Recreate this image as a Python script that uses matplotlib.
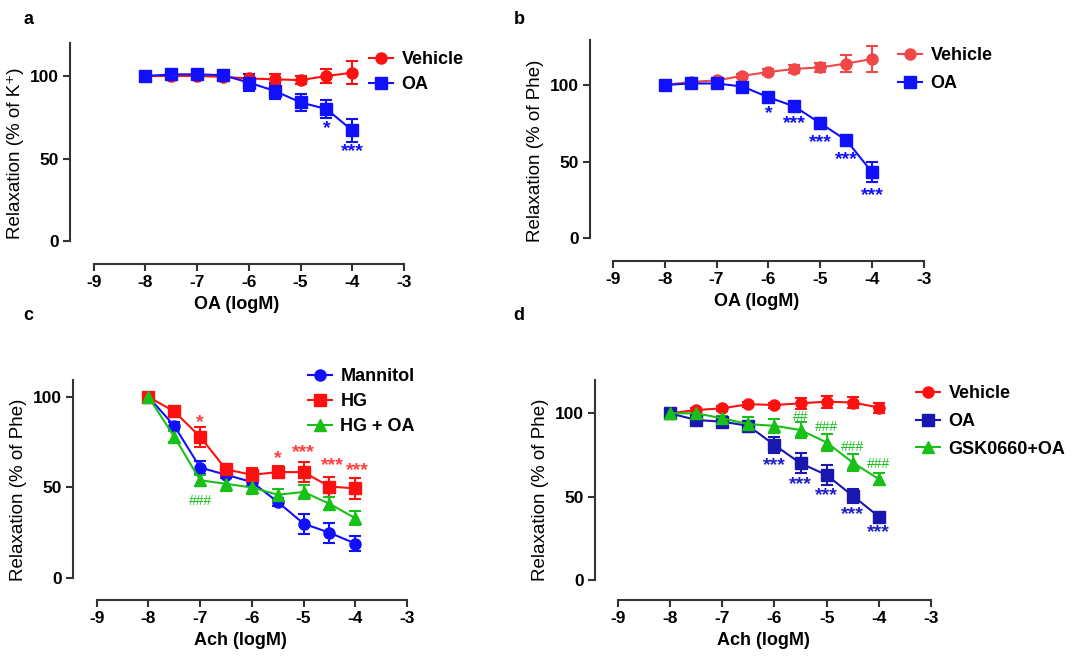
import matplotlib
matplotlib.use("Agg")
import matplotlib.pyplot as plt

plt.rcParams['font.family'] = ['Liberation Sans', 'DejaVu Sans']
plt.rcParams['font.weight'] = 'bold'

# ---------------- data ----------------
conc = [-8, -7.5, -7, -6.5, -6, -5.5, -5, -4.5, -4]
xticks = [-9, -8, -7, -6, -5, -4, -3]
yticks = [0, 50, 100]

# panel a
a_veh = [100, 100, 100, 99.5, 98.5, 98, 97.5, 100, 102]
a_veh_err = [0.5, 1, 2, 1.5, 3, 3, 2.5, 4.5, 7]
a_oa = [100, 101, 101, 100.5, 96, 91, 84, 80, 67]
a_oa_err = [0.5, 1, 2, 1.5, 5, 5, 5, 5.5, 7]

# panel b
b_veh = [100, 102, 103, 106, 108.5, 110.5, 111.5, 114, 117]
b_veh_err = [0.5, 1, 1, 1.5, 2, 2.5, 3, 5.8, 8.5]
b_oa = [100, 101, 101, 99, 92, 86, 75, 64, 43]
b_oa_err = [0.5, 1, 1, 1, 1.5, 1.5, 3.5, 3, 6.5]

# panel c
c_mann = [100, 84, 61, 57, 53, 42, 30, 25, 19]
c_mann_err = [0.5, 2, 3.5, 2, 2, 2, 5.5, 5.5, 4]
c_hg = [100, 92, 78, 60, 57, 58.5, 58.5, 50.5, 49.5]
c_hg_err = [0.5, 1.5, 5.5, 2, 3.5, 3.5, 5.5, 5.5, 6]
c_hgoa = [100, 78, 54, 52, 50, 46, 47.5, 41, 33]
c_hgoa_err = [0.5, 3, 3, 4, 3.5, 3, 4, 3.5, 4]

# panel d
d_veh = [100, 102, 103, 105.5, 105, 106, 107, 106.5, 103.5]
d_veh_err = [0.5, 1, 1.5, 1.5, 1.5, 3.5, 3.5, 3.5, 3]
d_oa = [100, 96, 95, 92.5, 81, 70, 63, 50.5, 38]
d_oa_err = [0.5, 1, 1.5, 2, 5, 6, 6, 4, 2]
d_gsk = [100, 100, 97, 93.5, 92.5, 90, 82.5, 70.5, 60.5]
d_gsk_err = [0.5, 1, 1.5, 4.5, 4, 5, 5, 5, 3.5]

# significance marks: (x, y, text)
a_marks = [(-4.5, 68, '*'), (-4, 54, '***')]
b_marks = [(-6, 81, '*'), (-5.5, 74.5, '***'), (-5, 62.4, '***'),
           (-4.5, 51, '***'), (-4, 27.7, '***')]
c_red_marks = [(-7, 86, '*'), (-5.5, 66, '*'), (-5, 69.3, '***'),
               (-4.45, 62, '***'), (-3.95, 59.3, '***')]
c_green_marks = [(-7, 42.7, '###')]
d_blue_marks = [(-6, 68.9, '***'), (-5.5, 57.2, '***'), (-5, 50.8, '***'),
                (-4.5, 39.2, '***'), (-4, 28.3, '***')]
d_green_marks = [(-5.5, 97.6, '##'), (-5, 92, '###'), (-4.5, 80, '###'),
                 (-4, 69.5, '###')]

W, H = 1078, 656
fig = plt.figure(figsize=(W / 100, H / 100), dpi=100)

RED = '#ff1010'
RED_L = '#f04848'
BLUE = '#1010ff'
NAVY = '#1818b0'
GREEN = '#18c018'
SPINE = '#333333'


def make_ax(left, right, top, bottom, ylim, xleft, xlabel, ylabel):
    ax = fig.add_axes([left / W, 1 - bottom / H, (right - left) / W, (bottom - top) / H])
    ax.set_xlim(xleft, -3)
    ax.set_ylim(*ylim)
    for s in ['top', 'right']:
        ax.spines[s].set_visible(False)
    for s in ['left', 'bottom']:
        ax.spines[s].set_linewidth(1.5)
        ax.spines[s].set_color(SPINE)
    ax.spines['left'].set_bounds(0, ylim[1])
    ax.spines['bottom'].set_bounds(-9, -3)
    ax.set_xticks(xticks)
    ax.set_yticks(yticks)
    ax.set_xticklabels([str(t) for t in xticks])
    ax.tick_params(direction='out', length=5, width=1.5, color=SPINE,
                   labelsize=12.5, pad=3)
    for lab in ax.get_xticklabels() + ax.get_yticklabels():
        lab.set_fontweight('bold')
    ax.set_xlabel(xlabel, fontsize=13, fontweight='bold', labelpad=4)
    ax.set_ylabel(ylabel, fontsize=13.5, fontweight='normal', labelpad=4)
    return ax


def series(ax, y, err, color, marker, label, ms=8):
    cont = ax.errorbar(conc, y, yerr=err, color=color, marker=marker, markersize=ms,
                       linewidth=1.5, elinewidth=1.5, capsize=4.5, capthick=1.5,
                       label=label, clip_on=False)
    return cont[0]


def marks(ax, lst, color, size=14, weight='bold'):
    for x, y, t in lst:
        ax.text(x, y, t, color=color, fontsize=size, fontweight=weight,
                ha='center', va='center')


def legend(ax, handles, labels, x, y, spacing):
    leg = ax.legend(handles, labels, loc='upper left',
                    bbox_to_anchor=(x / W, 1 - y / H),
                    bbox_transform=fig.transFigure, frameon=False,
                    prop={'size': 13, 'weight': 'bold'}, handlelength=1.35,
                    handletextpad=0.45, borderpad=0, borderaxespad=0,
                    labelspacing=spacing)
    return leg


# ---- panel a ----
axa = make_ax(70, 404, 43, 264, (-13.9, 120), -9.46, 'OA (logM)',
              'Relaxation (% of K\u207a)')
h1 = series(axa, a_veh, a_veh_err, RED, 'o', 'Vehicle')
h2 = series(axa, a_oa, a_oa_err, BLUE, 's', 'OA')
marks(axa, a_marks, BLUE)
legend(axa, [h1, h2], ['Vehicle', 'OA'], 369, 51, 0.45)

# ---- panel b ----
axb = make_ax(590, 924, 40, 261, (-15, 129.4), -9.44, 'OA (logM)',
              'Relaxation (% of Phe)')
h1 = series(axb, b_veh, b_veh_err, RED_L, 'o', 'Vehicle')
h2 = series(axb, b_oa, b_oa_err, BLUE, 's', 'OA')
marks(axb, b_marks, BLUE)
legend(axb, [h1, h2], ['Vehicle', 'OA'], 898, 47, 0.6)

# ---- panel c ----
axc = make_ax(73, 407, 380, 600, (-12.2, 109.4), -9.46, 'Ach (logM)',
              'Relaxation (% of Phe)')
h1 = series(axc, c_mann, c_mann_err, BLUE, 'o', 'Mannitol')
h2 = series(axc, c_hg, c_hg_err, RED, 's', 'HG')
h3 = series(axc, c_hgoa, c_hgoa_err, GREEN, '^', 'HG + OA')
marks(axc, c_red_marks, '#ff4040')
marks(axc, c_green_marks, GREEN, size=10, weight='normal')
legend(axc, [h1, h2, h3], ['Mannitol', 'HG', 'HG + OA'], 308, 368, 0.45)

# ---- panel d ----
axd = make_ax(595, 931, 380, 600, (-12, 120), -9.44, 'Ach (logM)',
              'Relaxation (% of Phe)')
h1 = series(axd, d_veh, d_veh_err, RED, 'o', 'Vehicle')
h2 = series(axd, d_oa, d_oa_err, NAVY, 's', 'OA')
h3 = series(axd, d_gsk, d_gsk_err, GREEN, '^', 'GSK0660+OA')
marks(axd, d_blue_marks, '#2020c8')
marks(axd, d_green_marks, GREEN, size=10, weight='normal')
legend(axd, [h1, h2, h3], ['Vehicle', 'OA', 'GSK0660+OA'], 916, 385, 0.6)

# panel letters
for x, y, t in [(28, 19, 'a'), (519, 19, 'b'), (28, 315, 'c'), (519, 315, 'd')]:
    fig.text(x / W, 1 - y / H, t, fontsize=13, fontweight='bold',
             ha='center', va='center')

fig.savefig('out.png', dpi=100)
